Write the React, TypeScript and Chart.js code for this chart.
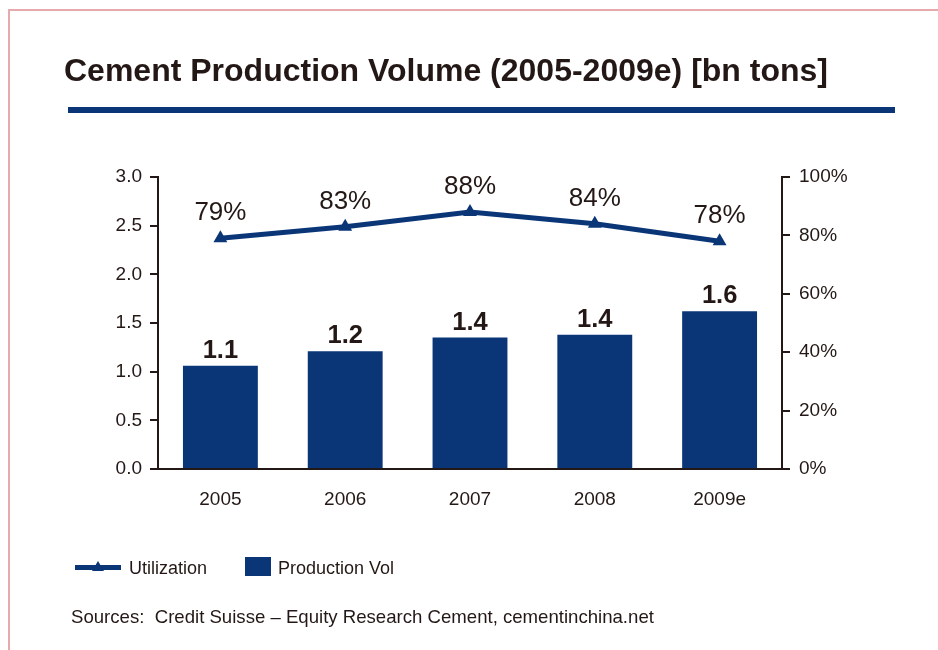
import React, { useEffect, useRef } from "react";
import { Chart, registerables } from "chart.js";

Chart.register(...registerables);

const categories = ["2005", "2006", "2007", "2008", "2009e"];
const productionVol = [1.06, 1.21, 1.35, 1.38, 1.62];
const productionLabels = ["1.1", "1.2", "1.4", "1.4", "1.6"];
const utilization = [79, 83, 88, 84, 78];

const titleText = "Cement Production Volume (2005-2009e) [bn tons]";
const sourceText = "Sources:  Credit Suisse \u2013 Equity Research Cement, cementinchina.net";
const legendLine = "Utilization";
const legendBar = "Production Vol";

const BLUE = "#0a3678";
const DARK = "#231815";
const FONT = '"Liberation Sans", Arial, sans-serif';

const decorPlugin = {
  id: "decor",
  afterDatasetsDraw(chart: any) {
    const ctx = chart.ctx;
    ctx.save();
    ctx.fillStyle = DARK;
    ctx.textAlign = "center";
    ctx.textBaseline = "alphabetic";
    const barMeta = chart.getDatasetMeta(0);
    ctx.font = `bold 25.5px ${FONT}`;
    barMeta.data.forEach((el: any, i: number) => {
      ctx.fillText(productionLabels[i], el.x, el.y - 8);
    });
    const lineMeta = chart.getDatasetMeta(1);
    ctx.font = `26px ${FONT}`;
    lineMeta.data.forEach((el: any, i: number) => {
      ctx.fillText(utilization[i] + "%", el.x, el.y - 18);
    });
    ctx.restore();
  },
  afterDraw(chart: any) {
    const ctx = chart.ctx;
    ctx.save();
    ctx.strokeStyle = "#e6aaad";
    ctx.lineWidth = 2;
    ctx.beginPath();
    ctx.moveTo(960, 10);
    ctx.lineTo(9, 10);
    ctx.lineTo(9, 700);
    ctx.stroke();
    ctx.fillStyle = DARK;
    ctx.textAlign = "left";
    ctx.textBaseline = "alphabetic";
    ctx.font = `bold 32px ${FONT}`;
    ctx.fillText(titleText, 64, 81);
    ctx.fillStyle = BLUE;
    ctx.fillRect(68, 107, 827, 6);
    ctx.strokeStyle = BLUE;
    ctx.lineWidth = 5;
    ctx.beginPath();
    ctx.moveTo(75, 567.5);
    ctx.lineTo(121, 567.5);
    ctx.stroke();
    ctx.fillStyle = BLUE;
    ctx.beginPath();
    ctx.moveTo(98, 561);
    ctx.lineTo(104, 571);
    ctx.lineTo(92, 571);
    ctx.closePath();
    ctx.fill();
    ctx.fillRect(245, 557, 26, 19);
    ctx.fillStyle = DARK;
    ctx.font = `18px ${FONT}`;
    ctx.fillText(legendLine, 129, 574);
    ctx.fillText(legendBar, 278, 574);
    ctx.font = `18.6px ${FONT}`;
    ctx.fillText(sourceText, 71, 623);
    ctx.restore();
  },
};

export default function App() {
  const ref = useRef<HTMLCanvasElement>(null);
  useEffect(() => {
    if (!ref.current) return;
    const tickFont = { family: FONT, size: 19 };
    const chart = new Chart(ref.current, {
      type: "bar",
      data: {
        labels: categories,
        datasets: [
          {
            type: "bar",
            label: legendBar,
            data: productionVol,
            backgroundColor: BLUE,
            barPercentage: 0.6,
            categoryPercentage: 1.0,
            yAxisID: "y",
            order: 1,
          },
          {
            type: "line",
            label: legendLine,
            data: utilization,
            borderColor: BLUE,
            backgroundColor: BLUE,
            borderWidth: 5,
            pointStyle: "triangle",
            pointRadius: 8,
            pointBorderWidth: 0,
            pointBackgroundColor: BLUE,
            yAxisID: "y1",
            order: 0,
            clip: false,
          } as any,
        ],
      },
      options: {
        responsive: false,
        animation: false,
        layout: { padding: { left: 108, right: 86, top: 177, bottom: 131 } },
        plugins: { legend: { display: false }, tooltip: { enabled: false } },
        scales: {
          x: {
            grid: { display: false, drawTicks: false },
            border: { display: true, color: DARK, width: 2 },
            ticks: { font: tickFont, color: DARK, padding: 19 },
            afterFit: (s: any) => {
              s.height = 50;
            },
          },
          y: {
            position: "left",
            min: 0,
            max: 3,
            ticks: {
              stepSize: 0.5,
              font: tickFont,
              color: DARK,
              padding: 8,
              callback: (v: any) => Number(v).toFixed(1),
            },
            grid: { drawOnChartArea: false, drawTicks: true, tickLength: 8, color: DARK, lineWidth: 2 },
            border: { display: true, color: DARK, width: 2 },
            afterFit: (s: any) => {
              s.width = 50;
            },
          },
          y1: {
            position: "right",
            min: 0,
            max: 100,
            ticks: {
              stepSize: 20,
              font: tickFont,
              color: DARK,
              padding: 9,
              callback: (v: any) => v + "%",
            },
            grid: { drawOnChartArea: false, drawTicks: true, tickLength: 8, color: DARK, lineWidth: 2 },
            border: { display: true, color: DARK, width: 2 },
            afterFit: (s: any) => {
              s.width = 70;
            },
          },
        },
      } as any,
      plugins: [decorPlugin],
    });
    return () => chart.destroy();
  }, []);
  return (
    <div style={{ position: "absolute", left: 0, top: 0, width: 938, height: 650, background: "#fff" }}>
      <canvas ref={ref} width={938} height={650} style={{ display: "block" }} />
    </div>
  );
}
